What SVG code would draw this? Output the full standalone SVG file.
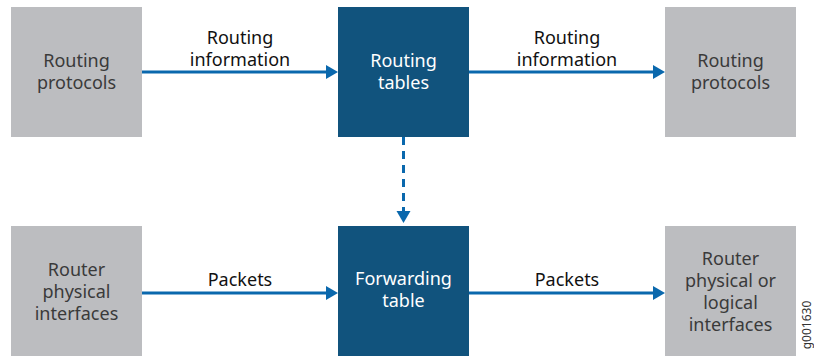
<svg xmlns="http://www.w3.org/2000/svg" width="814" height="356" viewBox="0 0 814 356">
<style>
text{font-family:"Noto Sans","Open Sans",sans-serif;font-size:18px;text-anchor:middle}
.g{fill:#bcbdc0}
.d{fill:#11537d}
.gt{fill:#3a3a3a}
.wt{fill:#ffffff}
.lt{fill:#111111}
.c{stroke:#0a68ad;stroke-width:3;fill:none}
.h{fill:#0a68ad}
</style>
<rect width="814" height="356" fill="#ffffff"/>
<g id="rp1"><rect class="g" x="11" y="7" width="131" height="130"/><text class="gt" x="76.5" y="67">Routing</text><text class="gt" x="76.5" y="89">protocols</text></g>
<g id="rt"><rect class="d" x="338" y="7" width="131" height="130"/><text class="wt" x="403.5" y="67">Routing</text><text class="wt" x="403.5" y="89">tables</text></g>
<g id="rp2"><rect class="g" x="665" y="7" width="131" height="130"/><text class="gt" x="730.5" y="67">Routing</text><text class="gt" x="730.5" y="89">protocols</text></g>
<g id="rpi"><rect class="g" x="11" y="226" width="131" height="130"/><text class="gt" x="76.5" y="276">Router</text><text class="gt" x="76.5" y="298">physical</text><text class="gt" x="76.5" y="320">interfaces</text></g>
<g id="ft"><rect class="d" x="338" y="226" width="131" height="130"/><text class="wt" x="403.5" y="285">Forwarding</text><text class="wt" x="403.5" y="307">table</text></g>
<g id="rpl"><rect class="g" x="665" y="226" width="131" height="130"/><text class="gt" x="730.5" y="265">Router</text><text class="gt" x="730.5" y="287">physical or</text><text class="gt" x="730.5" y="309">logical</text><text class="gt" x="730.5" y="331">interfaces</text></g>
<g id="connectors">
<line class="c" x1="142" y1="72" x2="328" y2="72"/>
<polygon class="h" points="326,65 338,72 326,79"/>
<line class="c" x1="469" y1="72" x2="655" y2="72"/>
<polygon class="h" points="653,65 665,72 653,79"/>
<line class="c" x1="142" y1="293" x2="328" y2="293"/>
<polygon class="h" points="326,286 338,293 326,300"/>
<line class="c" x1="469" y1="293" x2="655" y2="293"/>
<polygon class="h" points="653,286 665,293 653,300"/>
<line class="c" x1="403.5" y1="137" x2="403.5" y2="212" stroke-dasharray="8,6"/>
<polygon class="h" points="396.5,211 410.5,211 403.5,223"/>
<text class="lt" x="240" y="44">Routing</text><text class="lt" x="240" y="66">information</text>
<text class="lt" x="567" y="44">Routing</text><text class="lt" x="567" y="66">information</text>
<text class="lt" x="240" y="286">Packets</text>
<text class="lt" x="567" y="286">Packets</text>
</g>
<text x="813" y="325" transform="rotate(-90 813 325)" style="font-size:12px;fill:#333" dy="-2">g001630</text>
</svg>
